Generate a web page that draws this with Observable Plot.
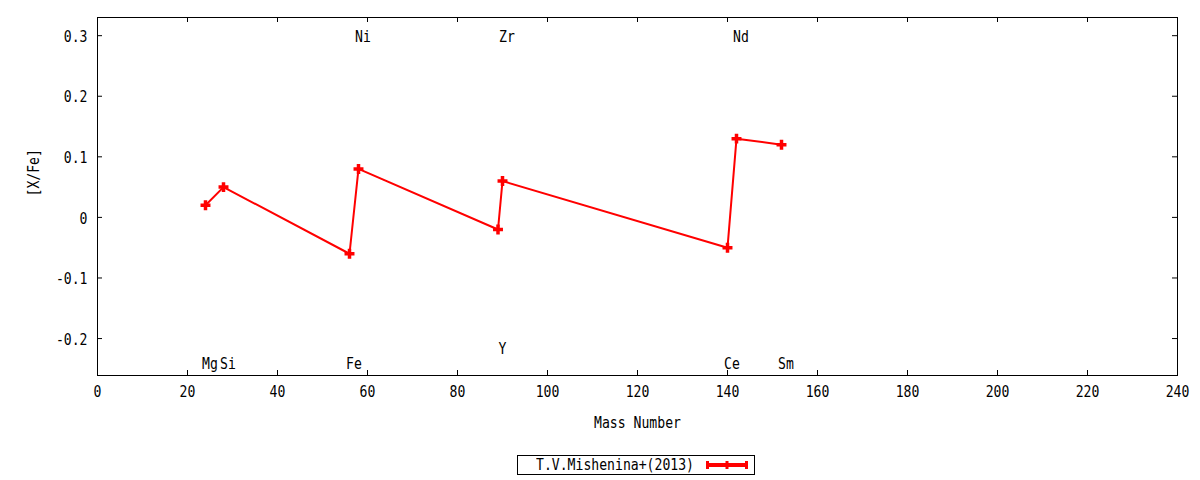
<!DOCTYPE html>
<html>
<head>
<meta charset="utf-8">
<script src="https://cdn.jsdelivr.net/npm/d3@7"></script>
<script src="https://cdn.jsdelivr.net/npm/@observablehq/plot@0.6"></script>
<style>
  html, body { margin: 0; padding: 0; background: #fff; }
  #wrap { position: relative; width: 1200px; height: 480px; }
  #legend { position: absolute; left: 517px; top: 455px; width: 236px; height: 18px;
    border: 1px solid #000; background: #fff; font-family: "DejaVu Sans Mono", monospace; font-size: 16px; }
  #legend .lab { position: absolute; left: 18px; top: 0px; line-height: 18px; transform: scaleX(0.82); transform-origin: left center; white-space: nowrap; }
  #legend svg { position: absolute; left: 186px; top: 0px; }
</style>
</head>
<body>
<div id="wrap">
  <div id="chart"></div>
  <div id="legend"><span class="lab">T.V.Mishenina+(2013)</span>
    <svg width="46" height="18">
      <line x1="2" y1="9" x2="44" y2="9" stroke="#ff0000" stroke-width="4"/>
      <line x1="3.5" y1="5" x2="3.5" y2="13" stroke="#ff0000" stroke-width="3"/>
      <line x1="23" y1="5" x2="23" y2="13" stroke="#ff0000" stroke-width="3"/>
      <line x1="42.5" y1="5" x2="42.5" y2="13" stroke="#ff0000" stroke-width="3"/>
    </svg>
  </div>
</div>
<script>
// Data: mass number and [X/Fe]
const elements = ["Mg", "Si", "Fe", "Ni", "Y", "Zr", "Ce", "Nd", "Sm"];
const masses   = [24, 28, 56, 58, 89, 90, 140, 142, 152];
const values   = [0.02, 0.05, -0.06, 0.08, -0.02, 0.06, -0.05, 0.13, 0.12];
// element label positions (as placed in the figure)
const labelX   = [25, 29, 57, 59, 90, 91, 141, 143, 153];
const labelY   = [-0.24, -0.24, -0.24, 0.3, -0.215, 0.3, -0.24, 0.3, -0.24];
// ticks
const xTicks = [0, 20, 40, 60, 80, 100, 120, 140, 160, 180, 200, 220, 240];
const yTicks = [-0.2, -0.1, 0, 0.1, 0.2, 0.3];

const data = masses.map((m, i) => ({mass: m, val: values[i]}));
const labels = elements.map((e, i) => ({name: e, x: labelX[i], y: labelY[i]}));

const W = 1200, H = 440;
const mL = 97, mR = 23, mT = 17, mB = 65;
const fw = W - mL - mR, fh = H - mT - mB;
const tick = 5;

const chart = Plot.plot({
  width: W, height: H,
  marginLeft: mL, marginRight: mR, marginTop: mT, marginBottom: mB,
  style: {fontFamily: "DejaVu Sans Mono", fontSize: "16px", background: "white", color: "black"},
  x: {domain: [0, 240], axis: null},
  y: {domain: [-0.261, 0.33], axis: null},
  marks: [
    // inward ticks, all four sides
    Plot.tickX(xTicks, {x: d => d, insetTop: fh - tick, stroke: "black", strokeWidth: 1}),
    Plot.tickX(xTicks, {x: d => d, insetBottom: fh - tick, stroke: "black", strokeWidth: 1}),
    Plot.tickY(yTicks, {y: d => d, insetRight: fw - tick, stroke: "black", strokeWidth: 1}),
    Plot.tickY(yTicks, {y: d => d, insetLeft: fw - tick, stroke: "black", strokeWidth: 1}),
    Plot.frame({stroke: "black", strokeWidth: 1}),
    // tick labels
    Plot.text(xTicks, {x: d => d, frameAnchor: "bottom", dy: 21, text: d => String(d), fill: "black"}),
    Plot.text(yTicks, {y: d => d, frameAnchor: "left", textAnchor: "end", dx: -10, dy: 1, text: d => String(d), fill: "black"}),
    // axis labels
    Plot.text(["Mass Number"], {frameAnchor: "bottom", dy: 52, text: d => d, fill: "black"}),
    Plot.text(["[X/Fe]"], {frameAnchor: "left", dx: -64, rotate: -90, text: d => d, fill: "black"}),
    // element labels
    Plot.text(labels, {x: "x", y: "y", text: "name", dy: 1.5, fill: "black"}),
    // series
    Plot.line(data, {x: "mass", y: "val", stroke: "#ff0000", strokeWidth: 2}),
    Plot.dot(data, {x: "mass", y: "val", symbol: "plus", r: 3.3, stroke: "#ff0000", strokeWidth: 3.5})
  ]
});
document.getElementById("chart").appendChild(chart);

// condense text horizontally (narrow gnuplot-like font)
chart.querySelectorAll("text").forEach(t => {
  const tr = t.getAttribute("transform");
  if (tr) t.setAttribute("transform", tr + " scale(0.82,1)");
  else {
    const x = +t.getAttribute("x") || 0, y = +t.getAttribute("y") || 0;
    t.setAttribute("transform", `translate(${x},${y}) scale(0.82,1) translate(${-x},${-y})`);
  }
});
</script>
</body>
</html>
